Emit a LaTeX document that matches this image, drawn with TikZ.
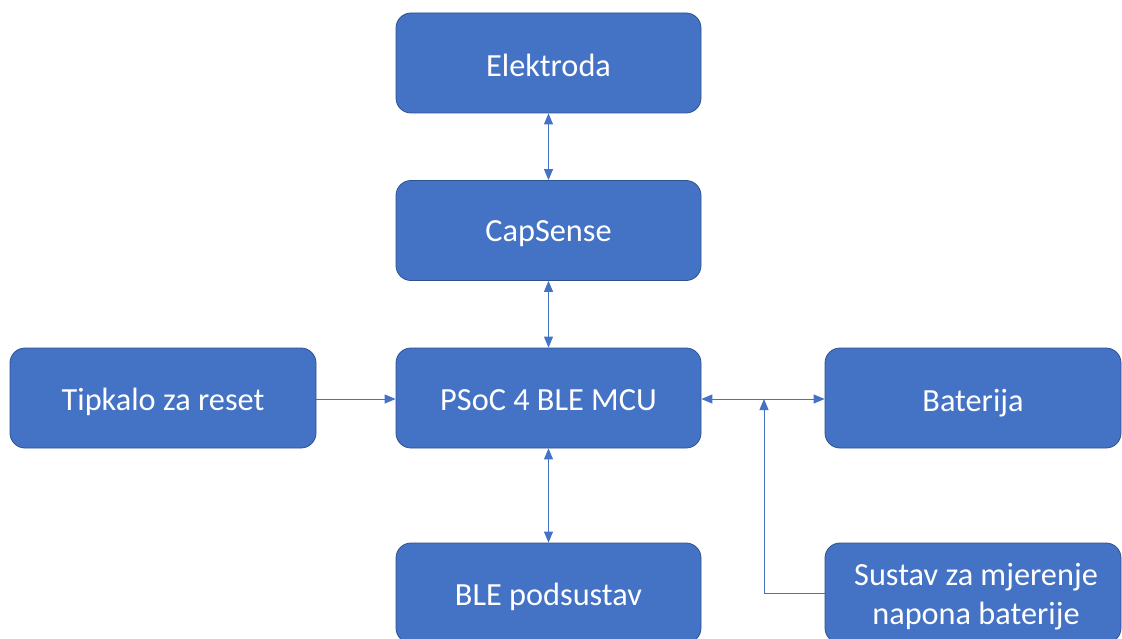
\documentclass[tikz,border=0pt]{standalone}
\usepackage{fontspec}
\setmainfont{Carlito}
\usetikzlibrary{arrows.meta}
\definecolor{boxfill}{HTML}{4472C4}
\definecolor{boxline}{HTML}{2F528F}
\definecolor{conn}{HTML}{4472C4}
\newcommand{\lowr}[2][12.5pt]{\raisebox{-#1}{#2}}
\tikzset{
  blk/.style={draw=boxline, line width=0.8pt, fill=boxfill, rounded corners=15pt,
    minimum width=305pt, minimum height=100pt, inner sep=0pt, text=white,
    text height=0pt, text depth=0pt,
    font=\fontsize{32.3}{39}\selectfont},
  conn/.style={draw=conn, line width=1pt},
  tip/.style={-{Triangle[length=11pt,width=9pt]}},
  tips/.style={{Triangle[length=11pt,width=9pt]}-{Triangle[length=11pt,width=9pt]}}
}
\begin{document}
\begin{tikzpicture}[x=1pt,y=1pt]
\useasboundingbox (0,0) rectangle (1122,-639);
\clip (0,0) rectangle (1122,-639);
\fill[white] (0,0) rectangle (1122,-639);
\node[blk] (el) at (548.5,-63) {\lowr[13.5pt]{Elektroda}};
\node[blk] (cap) at (548.5,-230.5) {\lowr[11pt]{CapSense}};
\node[blk] (mcu) at (548.5,-398) {\lowr[12.5pt]{PSoC 4 BLE MCU}};
\node[blk, minimum width=306pt] (tip) at (163,-398) {\lowr[12.5pt]{Tipkalo za reset}};
\node[blk, minimum width=296pt] (bat) at (973,-398) {\lowr[13pt]{Baterija}};
\node[blk] (ble) at (548.5,-593) {\lowr[12.5pt]{BLE podsustav}};
\node[blk, minimum width=296pt] (sus) at (973,-593) {\lowr[31pt]{\begin{tabular}[b]{@{\hspace{6pt}}c@{}}Sustav za mjerenje\\napona baterije\end{tabular}}};
\coordinate (j) at (764,-399);
\draw[conn,tips] (el.south) -- (cap.north);
\draw[conn,tips] (cap.south) -- (mcu.north);
\draw[conn,tips] (mcu.south) -- (ble.north);
\draw[conn,tip] (tip.east |- 0,-399) -- (mcu.west |- 0,-399);
\draw[conn,tips] (mcu.east |- 0,-399) -- (bat.west |- 0,-399);
\draw[conn,tip] (sus.west) -| (j);
\end{tikzpicture}
\end{document}
